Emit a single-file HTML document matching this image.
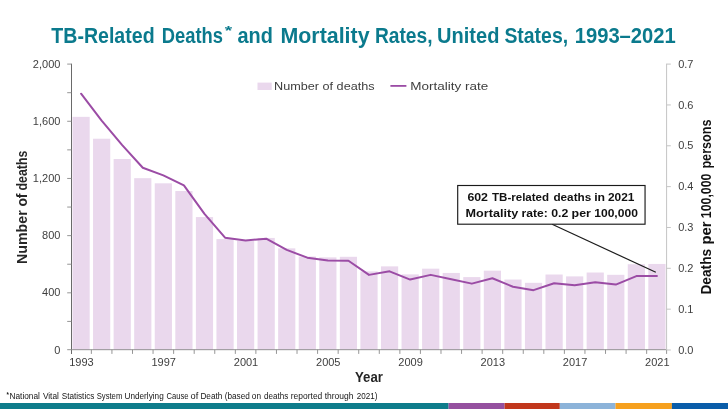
<!DOCTYPE html>
<html><head><meta charset="utf-8"><title>TB-Related Deaths</title>
<style>
html,body{margin:0;padding:0;background:#fff;}
body{width:728px;height:409px;overflow:hidden;font-family:"Liberation Sans",sans-serif;}
svg{display:block;will-change:transform;opacity:0.999;}
text{font-family:"Liberation Sans",sans-serif;}
</style></head><body>
<svg width="728" height="409" viewBox="0 0 728 409">
<rect x="0" y="0" width="728" height="409" fill="#ffffff"/>
<text x="51.30" y="42.60" font-size="21.5" font-weight="bold" fill="#0b7a8d" textLength="103.30" lengthAdjust="spacingAndGlyphs">TB-Related</text>
<text x="161.80" y="42.60" font-size="21.5" font-weight="bold" fill="#0b7a8d" textLength="61.20" lengthAdjust="spacingAndGlyphs">Deaths</text>
<text x="237.50" y="42.60" font-size="21.5" font-weight="bold" fill="#0b7a8d" textLength="35.40" lengthAdjust="spacingAndGlyphs">and</text>
<text x="280.40" y="42.60" font-size="21.5" font-weight="bold" fill="#0b7a8d" textLength="89.20" lengthAdjust="spacingAndGlyphs">Mortality</text>
<text x="374.90" y="42.60" font-size="21.5" font-weight="bold" fill="#0b7a8d" textLength="57.60" lengthAdjust="spacingAndGlyphs">Rates,</text>
<text x="437.10" y="42.60" font-size="21.5" font-weight="bold" fill="#0b7a8d" textLength="62.30" lengthAdjust="spacingAndGlyphs">United</text>
<text x="504.40" y="42.60" font-size="21.5" font-weight="bold" fill="#0b7a8d" textLength="63.70" lengthAdjust="spacingAndGlyphs">States,</text>
<text x="574.70" y="42.60" font-size="21.5" font-weight="bold" fill="#0b7a8d" textLength="101.10" lengthAdjust="spacingAndGlyphs">1993–2021</text>
<text x="224.70" y="34.80" font-size="13" font-weight="bold" fill="#0b7a8d" textLength="7.40" lengthAdjust="spacingAndGlyphs">*</text>
<g fill="#ead8ed">
<rect x="72.48" y="116.85" width="17.20" height="233.15"/>
<rect x="93.05" y="138.72" width="17.20" height="211.28"/>
<rect x="113.62" y="159.02" width="17.20" height="190.98"/>
<rect x="134.18" y="178.17" width="17.20" height="171.83"/>
<rect x="154.75" y="183.32" width="17.20" height="166.68"/>
<rect x="175.31" y="191.04" width="17.20" height="158.96"/>
<rect x="195.88" y="217.06" width="17.20" height="132.94"/>
<rect x="216.45" y="239.07" width="17.20" height="110.93"/>
<rect x="237.01" y="240.79" width="17.20" height="109.21"/>
<rect x="257.58" y="237.93" width="17.20" height="112.07"/>
<rect x="278.14" y="248.36" width="17.20" height="101.64"/>
<rect x="298.71" y="256.51" width="17.20" height="93.49"/>
<rect x="319.27" y="257.37" width="17.20" height="92.63"/>
<rect x="339.84" y="256.80" width="17.20" height="93.20"/>
<rect x="360.41" y="271.38" width="17.20" height="78.62"/>
<rect x="380.97" y="266.37" width="17.20" height="83.63"/>
<rect x="401.54" y="274.38" width="17.20" height="75.62"/>
<rect x="422.10" y="268.66" width="17.20" height="81.34"/>
<rect x="442.67" y="272.95" width="17.20" height="77.05"/>
<rect x="463.24" y="277.10" width="17.20" height="72.90"/>
<rect x="483.80" y="270.66" width="17.20" height="79.34"/>
<rect x="504.37" y="279.53" width="17.20" height="70.47"/>
<rect x="524.93" y="282.81" width="17.20" height="67.19"/>
<rect x="545.50" y="274.52" width="17.20" height="75.48"/>
<rect x="566.07" y="276.38" width="17.20" height="73.62"/>
<rect x="586.63" y="272.52" width="17.20" height="77.48"/>
<rect x="607.20" y="274.81" width="17.20" height="75.19"/>
<rect x="627.76" y="264.23" width="17.20" height="85.77"/>
<rect x="648.33" y="263.94" width="17.20" height="86.06"/>
</g>
<g stroke="#6a6a6a" stroke-width="1" fill="none">
<path d="M71.50 63.70 V354.00"/>
</g>
<g stroke="#8a8a8a" stroke-width="0.9" fill="none">
<path d="M67.20 349.70 H666.60"/>
<path d="M67.20 321.41 H71.50"/>
<path d="M67.20 292.82 H71.50"/>
<path d="M67.20 264.23 H71.50"/>
<path d="M67.20 235.64 H71.50"/>
<path d="M67.20 207.05 H71.50"/>
<path d="M67.20 178.46 H71.50"/>
<path d="M67.20 149.87 H71.50"/>
<path d="M67.20 121.28 H71.50"/>
<path d="M67.20 92.69 H71.50"/>
<path d="M67.20 64.10 H71.50"/>
<path d="M91.37 349.70 V353.90"/>
<path d="M111.93 349.70 V353.90"/>
<path d="M132.50 349.70 V353.90"/>
<path d="M153.06 349.70 V353.90"/>
<path d="M173.63 349.70 V353.90"/>
<path d="M194.20 349.70 V353.90"/>
<path d="M214.76 349.70 V353.90"/>
<path d="M235.33 349.70 V353.90"/>
<path d="M255.89 349.70 V353.90"/>
<path d="M276.46 349.70 V353.90"/>
<path d="M297.03 349.70 V353.90"/>
<path d="M317.59 349.70 V353.90"/>
<path d="M338.16 349.70 V353.90"/>
<path d="M358.72 349.70 V353.90"/>
<path d="M379.29 349.70 V353.90"/>
<path d="M399.86 349.70 V353.90"/>
<path d="M420.42 349.70 V353.90"/>
<path d="M440.99 349.70 V353.90"/>
<path d="M461.55 349.70 V353.90"/>
<path d="M482.12 349.70 V353.90"/>
<path d="M502.69 349.70 V353.90"/>
<path d="M523.25 349.70 V353.90"/>
<path d="M543.82 349.70 V353.90"/>
<path d="M564.38 349.70 V353.90"/>
<path d="M584.95 349.70 V353.90"/>
<path d="M605.52 349.70 V353.90"/>
<path d="M626.08 349.70 V353.90"/>
<path d="M646.65 349.70 V353.90"/>
<path d="M666.60 349.70 V353.90"/>
</g>
<g stroke="#c4c4c4" stroke-width="1" fill="none">
<path d="M666.60 63.70 V350.00"/>
<path d="M666.60 350.00 H670.80"/>
<path d="M666.60 309.16 H670.80"/>
<path d="M666.60 268.31 H670.80"/>
<path d="M666.60 227.47 H670.80"/>
<path d="M666.60 186.63 H670.80"/>
<path d="M666.60 145.79 H670.80"/>
<path d="M666.60 104.94 H670.80"/>
<path d="M666.60 64.10 H670.80"/>
</g>
<g font-size="11" fill="#3e3e3e" text-anchor="end">
<text x="60.4" y="353.60">0</text>
<text x="60.4" y="296.42">400</text>
<text x="60.4" y="239.24">800</text>
<text x="60.4" y="182.06">1,200</text>
<text x="60.4" y="124.88">1,600</text>
<text x="60.4" y="67.70">2,000</text>
</g>
<g font-size="11" fill="#3e3e3e" text-anchor="start">
<text x="678.2" y="353.60">0.0</text>
<text x="678.2" y="312.76">0.1</text>
<text x="678.2" y="271.91">0.2</text>
<text x="678.2" y="231.07">0.3</text>
<text x="678.2" y="190.23">0.4</text>
<text x="678.2" y="149.39">0.5</text>
<text x="678.2" y="108.54">0.6</text>
<text x="678.2" y="67.70">0.7</text>
</g>
<g font-size="11" fill="#3e3e3e" text-anchor="middle">
<text x="81.48" y="365.8">1993</text>
<text x="163.75" y="365.8">1997</text>
<text x="246.01" y="365.8">2001</text>
<text x="328.27" y="365.8">2005</text>
<text x="410.54" y="365.8">2009</text>
<text x="492.80" y="365.8">2013</text>
<text x="575.07" y="365.8">2017</text>
<text x="657.33" y="365.8">2021</text>
</g>
<polyline points="81.08,93.71 101.65,120.59 122.22,145.08 142.78,167.76 163.35,175.33 183.91,185.36 204.48,213.88 225.05,237.67 245.61,240.50 266.18,238.67 286.74,249.90 307.31,257.66 327.88,260.44 348.44,260.75 369.01,274.88 389.57,271.34 410.14,279.57 430.70,274.87 451.27,279.35 471.84,283.64 492.40,278.28 512.97,286.76 533.53,290.15 554.10,283.25 574.67,285.30 595.23,282.27 615.80,284.57 636.36,276.08 656.93,275.94" fill="none" stroke="#9b4ca5" stroke-width="2" stroke-linejoin="round" stroke-linecap="round"/>
<rect x="257.5" y="82.6" width="14.2" height="7.4" fill="#ead8ed"/>
<text x="274.00" y="89.90" font-size="11.8" font-weight="normal" fill="#3e3e3e" textLength="100.60" lengthAdjust="spacingAndGlyphs">Number of deaths</text>
<path d="M390.4 85.9 H406.4" stroke="#9b4ca5" stroke-width="1.8"/>
<text x="410.20" y="89.90" font-size="11.8" font-weight="normal" fill="#3e3e3e" textLength="78.00" lengthAdjust="spacingAndGlyphs">Mortality rate</text>
<text transform="translate(26.70,264.10) rotate(-90)" font-size="14.3" font-weight="bold" fill="#262626" textLength="53.80" lengthAdjust="spacingAndGlyphs">Number</text>
<text transform="translate(26.70,206.60) rotate(-90)" font-size="14.3" font-weight="bold" fill="#262626" textLength="13.10" lengthAdjust="spacingAndGlyphs">of</text>
<text transform="translate(26.70,190.40) rotate(-90)" font-size="14.3" font-weight="bold" fill="#262626" textLength="39.70" lengthAdjust="spacingAndGlyphs">deaths</text>
<text transform="translate(710.70,294.60) rotate(-90)" font-size="14.3" font-weight="bold" fill="#111" textLength="45.80" lengthAdjust="spacingAndGlyphs">Deaths</text>
<text transform="translate(710.70,244.60) rotate(-90)" font-size="14.3" font-weight="bold" fill="#111" textLength="23.20" lengthAdjust="spacingAndGlyphs">per</text>
<text transform="translate(710.70,218.20) rotate(-90)" font-size="14.3" font-weight="bold" fill="#111" textLength="44.60" lengthAdjust="spacingAndGlyphs">100,000</text>
<text transform="translate(710.70,168.60) rotate(-90)" font-size="14.3" font-weight="bold" fill="#111" textLength="49.20" lengthAdjust="spacingAndGlyphs">persons</text>
<text x="355.00" y="382.00" font-size="14.3" font-weight="bold" fill="#262626" textLength="27.90" lengthAdjust="spacingAndGlyphs">Year</text>
<path d="M552.1 224.2 L655.8 272.3" stroke="#1c1c1c" stroke-width="1.2" fill="none"/>
<rect x="457.7" y="185.5" width="187.35" height="38.7" fill="#fff" stroke="#1a1a1a" stroke-width="1.15"/>
<text x="467.40" y="200.90" font-size="11.6" font-weight="bold" fill="#111" textLength="20.60" lengthAdjust="spacingAndGlyphs">602</text>
<text x="492.00" y="200.90" font-size="11.6" font-weight="bold" fill="#111" textLength="57.10" lengthAdjust="spacingAndGlyphs">TB-related</text>
<text x="553.40" y="200.90" font-size="11.6" font-weight="bold" fill="#111" textLength="37.90" lengthAdjust="spacingAndGlyphs">deaths</text>
<text x="594.20" y="200.90" font-size="11.6" font-weight="bold" fill="#111" textLength="10.90" lengthAdjust="spacingAndGlyphs">in</text>
<text x="608.00" y="200.90" font-size="11.6" font-weight="bold" fill="#111" textLength="26.50" lengthAdjust="spacingAndGlyphs">2021</text>
<text x="465.60" y="217.10" font-size="11.6" font-weight="bold" fill="#111" textLength="52.60" lengthAdjust="spacingAndGlyphs">Mortality</text>
<text x="521.50" y="217.10" font-size="11.6" font-weight="bold" fill="#111" textLength="26.20" lengthAdjust="spacingAndGlyphs">rate:</text>
<text x="551.20" y="217.10" font-size="11.6" font-weight="bold" fill="#111" textLength="17.10" lengthAdjust="spacingAndGlyphs">0.2</text>
<text x="571.60" y="217.10" font-size="11.6" font-weight="bold" fill="#111" textLength="19.30" lengthAdjust="spacingAndGlyphs">per</text>
<text x="594.20" y="217.10" font-size="11.6" font-weight="bold" fill="#111" textLength="43.70" lengthAdjust="spacingAndGlyphs">100,000</text>
<text x="6.50" y="397.20" font-size="7.5" font-weight="bold" fill="#111" textLength="2.40" lengthAdjust="spacingAndGlyphs">*</text>
<text x="9.50" y="398.60" font-size="8.7" font-weight="normal" fill="#151515" textLength="30.40" lengthAdjust="spacingAndGlyphs">National</text>
<text x="42.90" y="398.60" font-size="8.7" font-weight="normal" fill="#151515" textLength="16.00" lengthAdjust="spacingAndGlyphs">Vital</text>
<text x="61.70" y="398.60" font-size="8.7" font-weight="normal" fill="#151515" textLength="32.70" lengthAdjust="spacingAndGlyphs">Statistics</text>
<text x="96.70" y="398.60" font-size="8.7" font-weight="normal" fill="#151515" textLength="25.60" lengthAdjust="spacingAndGlyphs">System</text>
<text x="124.50" y="398.60" font-size="8.7" font-weight="normal" fill="#151515" textLength="39.20" lengthAdjust="spacingAndGlyphs">Underlying</text>
<text x="166.50" y="398.60" font-size="8.7" font-weight="normal" fill="#151515" textLength="22.00" lengthAdjust="spacingAndGlyphs">Cause</text>
<text x="190.60" y="398.60" font-size="8.7" font-weight="normal" fill="#151515" textLength="7.70" lengthAdjust="spacingAndGlyphs">of</text>
<text x="200.40" y="398.60" font-size="8.7" font-weight="normal" fill="#151515" textLength="22.00" lengthAdjust="spacingAndGlyphs">Death</text>
<text x="224.70" y="398.60" font-size="8.7" font-weight="normal" fill="#151515" textLength="25.10" lengthAdjust="spacingAndGlyphs">(based</text>
<text x="251.80" y="398.60" font-size="8.7" font-weight="normal" fill="#151515" textLength="9.20" lengthAdjust="spacingAndGlyphs">on</text>
<text x="264.00" y="398.60" font-size="8.7" font-weight="normal" fill="#151515" textLength="24.20" lengthAdjust="spacingAndGlyphs">deaths</text>
<text x="290.80" y="398.60" font-size="8.7" font-weight="normal" fill="#151515" textLength="31.50" lengthAdjust="spacingAndGlyphs">reported</text>
<text x="324.70" y="398.60" font-size="8.7" font-weight="normal" fill="#151515" textLength="28.80" lengthAdjust="spacingAndGlyphs">through</text>
<text x="356.80" y="398.60" font-size="8.7" font-weight="normal" fill="#151515" textLength="20.60" lengthAdjust="spacingAndGlyphs">2021)</text>
<rect x="0.0" y="403" width="448.6" height="6" fill="#0e7c8b"/>
<rect x="448.6" y="403" width="56.0" height="6" fill="#95509f"/>
<rect x="504.6" y="403" width="55.2" height="6" fill="#c1371c"/>
<rect x="559.8" y="403" width="55.7" height="6" fill="#8cb3d9"/>
<rect x="615.5" y="403" width="56.4" height="6" fill="#f6a01e"/>
<rect x="671.9" y="403" width="56.1" height="6" fill="#0a5da9"/>
</svg></body></html>
